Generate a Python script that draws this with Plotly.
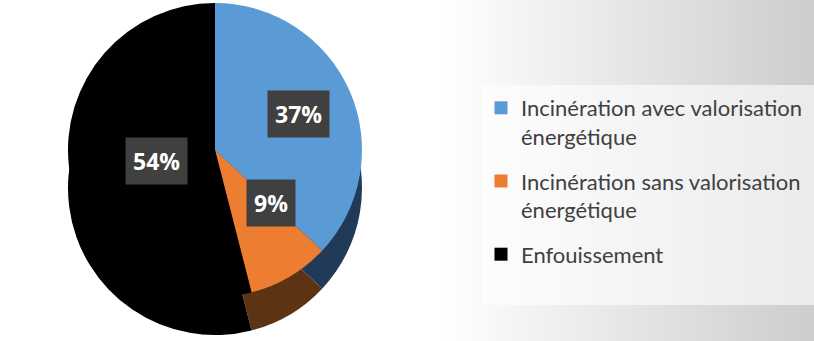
import base64
import math
import plotly.graph_objects as go

# ---- data ----
labels = ["Incinération avec valorisation<br>énergétique",
          "Incinération sans valorisation<br>énergétique",
          "Enfouissement"]
values = [37, 9, 54]
colors = ["#5b9bd5", "#ed7d31", "#000000"]
side_colors = ["#213a57", "#5c3414", "#000000"]

W, H = 814, 341

def dom(cx, cy, r):
    return dict(x=[(cx - r) / W, (cx + r) / W], y=[1 - (cy + r) / H, 1 - (cy - r) / H])

CX, CY, R, DEPTH = 215, 150, 147, 38

fig = go.Figure()
# side (extrusion) of the pseudo-3D pie
fig.add_trace(go.Pie(labels=labels, values=values, sort=False, direction="clockwise",
                     rotation=0, marker=dict(colors=side_colors, line=dict(width=0)),
                     textinfo="none", hoverinfo="skip", showlegend=False,
                     domain=dom(CX, CY + DEPTH, R)))
# top face
fig.add_trace(go.Pie(labels=labels, values=values, sort=False, direction="clockwise",
                     rotation=0, marker=dict(colors=colors, line=dict(width=0)),
                     textinfo="none", showlegend=False,
                     domain=dom(CX, CY, R)))

# legend entries (one group each so that entries can be spaced apart)
for lab, col in zip(labels, colors):
    fig.add_trace(go.Scatter(x=[None], y=[None], mode="markers", name=lab,
                             legendgroup=lab, hoverinfo="skip",
                             marker=dict(symbol="square", size=13, color=col)))

# percentage labels in dark boxes, placed at slice mid-angles
total = sum(values)
cum = 0
for v in values:
    mid = (cum + v / 2) / total * 2 * math.pi
    cum += v
    rf = 0.62 if v / total > 0.15 else 0.42
    px = CX + rf * R * math.sin(mid)
    py = CY - rf * R * math.cos(mid)
    fig.add_annotation(x=px / W, y=1 - py / H, xref="paper", yref="paper",
                       text=f"<b>{round(v / total * 100)}%</b>", showarrow=False,
                       font=dict(family="Open Sans", size=23, color="white"),
                       bgcolor="#404040", borderpad=7)

svg = f'''<svg xmlns="http://www.w3.org/2000/svg" width="{W}" height="{H}" viewBox="0 0 {W} {H}" preserveAspectRatio="none">
<defs><linearGradient id="g" x1="0" y1="0" x2="1" y2="0">
<stop offset="0" stop-color="#ffffff"/><stop offset="0.54" stop-color="#ffffff"/>
<stop offset="1" stop-color="#cdcdcd"/></linearGradient></defs>
<rect x="0" y="0" width="{W}" height="{H}" fill="url(#g)"/></svg>'''
uri = "data:image/svg+xml;base64," + base64.b64encode(svg.encode()).decode()

fig.update_layout(
    width=W, height=H,
    margin=dict(l=0, r=0, t=0, b=0),
    paper_bgcolor="white",
    plot_bgcolor="rgba(0,0,0,0)",
    xaxis=dict(visible=False),
    yaxis=dict(visible=False),
    images=[dict(source=uri, xref="paper", yref="paper", x=0, y=1, sizex=1, sizey=1,
                 sizing="stretch", layer="below")],
    shapes=[dict(type="rect", xref="paper", yref="paper", x0=482 / W, x1=1,
                 y0=1 - 305 / H, y1=1 - 85 / H, fillcolor="rgba(255,255,255,0.6)",
                 line=dict(width=0), layer="below")],
    legend=dict(x=481 / W, y=1 - 87 / H, xanchor="left", yanchor="top",
                bgcolor="rgba(0,0,0,0)", valign="top", traceorder="grouped",
                tracegroupgap=13,
                font=dict(family="Lato", size=22, color="#404040"),
                itemwidth=30),
)

fig.write_html("out.html", config={"displayModeBar": False},
               post_script="document.body.style.margin='0';")
